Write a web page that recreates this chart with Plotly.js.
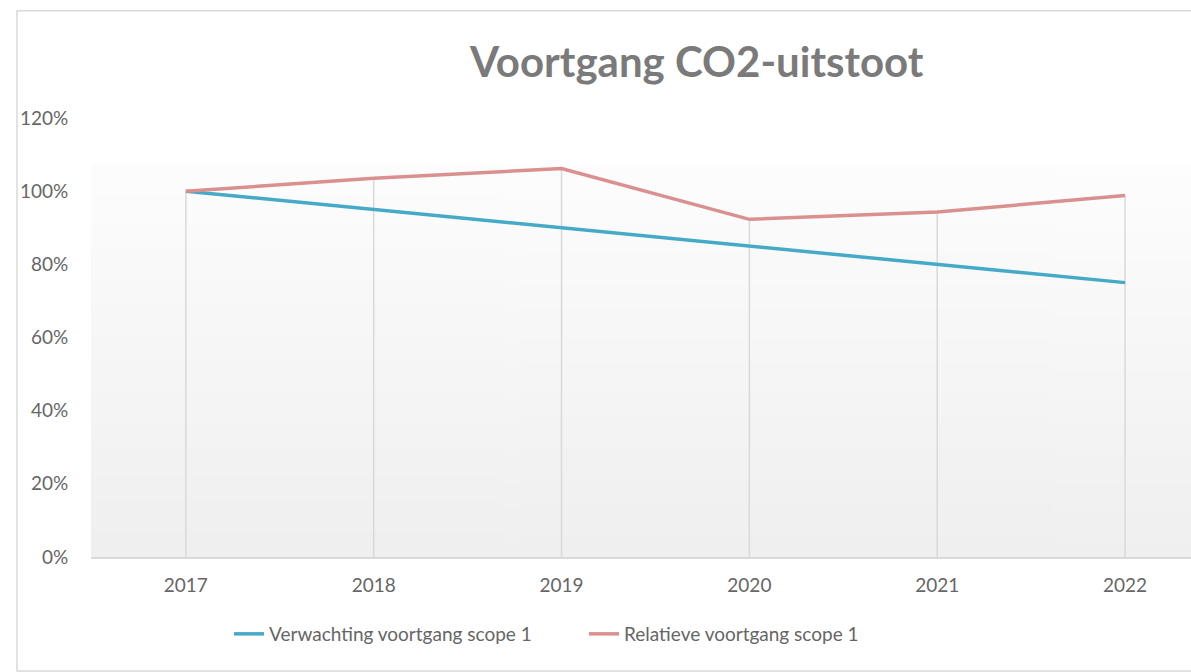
<!DOCTYPE html>
<html>
<head>
<meta charset="utf-8">
<script src="https://cdn.plot.ly/plotly-3.0.1.min.js"></script>
<style>
  html, body { margin: 0; padding: 0; background: #ffffff; }
  #chart { width: 1191px; height: 672px; }
</style>
</head>
<body>
<div id="chart"></div>
<script>
// ---- data ----
const years = ['2017', '2018', '2019', '2020', '2021', '2022'];
const expected = [1.00, 0.95, 0.90, 0.85, 0.80, 0.75];
const relative = [1.00, 1.035, 1.062, 0.923, 0.943, 0.988];
const seriesNames = ['Verwachting voortgang scope 1', 'Relatieve voortgang scope 1'];
const yTicks = [0, 0.2, 0.4, 0.6, 0.8, 1.0, 1.2];

// drop lines from the highest value of each category down to 0
const dropX = [], dropY = [];
years.forEach((yr, i) => {
  dropX.push(yr, yr, null);
  dropY.push(0, Math.max(expected[i], relative[i]), null);
});

// gradient background image for the plot area
function gradientURI() {
  const c = document.createElement('canvas');
  c.width = 4; c.height = 256;
  const ctx = c.getContext('2d');
  const g = ctx.createLinearGradient(0, 0, 0, 256);
  g.addColorStop(0, '#fdfdfd');
  g.addColorStop(1, '#efefef');
  ctx.fillStyle = g;
  ctx.fillRect(0, 0, 4, 256);
  return c.toDataURL('image/png');
}

const textColor = '#666666';
const fontFam = 'Lato, "Open Sans", sans-serif';

const traces = [
  {
    x: dropX, y: dropY, type: 'scatter', mode: 'lines',
    line: { color: '#d9d9d9', width: 1.5 },
    hoverinfo: 'skip', showlegend: false
  },
  {
    x: years, y: expected, type: 'scatter', mode: 'lines',
    name: seriesNames[0],
    line: { color: '#45a9c8', width: 3.5 }
  },
  {
    x: years, y: relative, type: 'scatter', mode: 'lines',
    name: seriesNames[1],
    line: { color: '#d9908f', width: 3.5 }
  }
];

const layout = {
  width: 1191, height: 672,
  margin: { l: 91, r: 0, t: 118, b: 115, pad: 0 },
  paper_bgcolor: '#ffffff',
  plot_bgcolor: 'rgba(0,0,0,0)',
  title: {
    text: 'Voortgang CO2-uitstoot',
    font: { family: fontFam, size: 42, color: '#7a7a7a', weight: 'bold' },
    xref: 'container', yref: 'container',
    x: 0.585, xanchor: 'center',
    y: 0.908, yanchor: 'middle'
  },
  xaxis: {
    type: 'category',
    range: [-0.505, 5.351],
    showgrid: false, zeroline: false,
    showline: true, linecolor: '#d9d9d9', linewidth: 1.5,
    ticks: 'outside', ticklen: 11, tickcolor: 'rgba(0,0,0,0)',
    tickfont: { family: fontFam, size: 19, color: textColor },
    fixedrange: true
  },
  yaxis: {
    range: [0, 1.2],
    tickvals: yTicks,
    tickformat: '.0%',
    showgrid: false, zeroline: false, showline: false,
    ticks: 'outside', ticklen: 18, tickcolor: 'rgba(0,0,0,0)',
    tickfont: { family: fontFam, size: 19, color: textColor },
    fixedrange: true
  },
  showlegend: true,
  legend: {
    orientation: 'h',
    xref: 'container', yref: 'container',
    x: 229 / 1191, xanchor: 'left',
    y: 1 - 634 / 672, yanchor: 'middle',
    entrywidth: 310, entrywidthmode: 'pixels',
    font: { family: fontFam, size: 19, color: textColor },
    bgcolor: 'rgba(0,0,0,0)'
  },
  images: [{
    source: gradientURI(),
    xref: 'paper', yref: 'y',
    x: 0, y: 1.072, sizex: 1, sizey: 1.072,
    xanchor: 'left', yanchor: 'top',
    sizing: 'stretch', layer: 'below'
  }],
  shapes: [{
    type: 'rect', xref: 'paper', yref: 'paper',
    x0: (17 - 91) / 1100, x1: 1.2,
    y0: (557 - 671) / 439, y1: (557 - 10.7) / 439,
    line: { color: '#d9d9d9', width: 1.5 },
    fillcolor: 'rgba(0,0,0,0)', layer: 'below'
  }],
  hovermode: false
};

Plotly.newPlot('chart', traces, layout, { displayModeBar: false, staticPlot: true });
</script>
</body>
</html>
